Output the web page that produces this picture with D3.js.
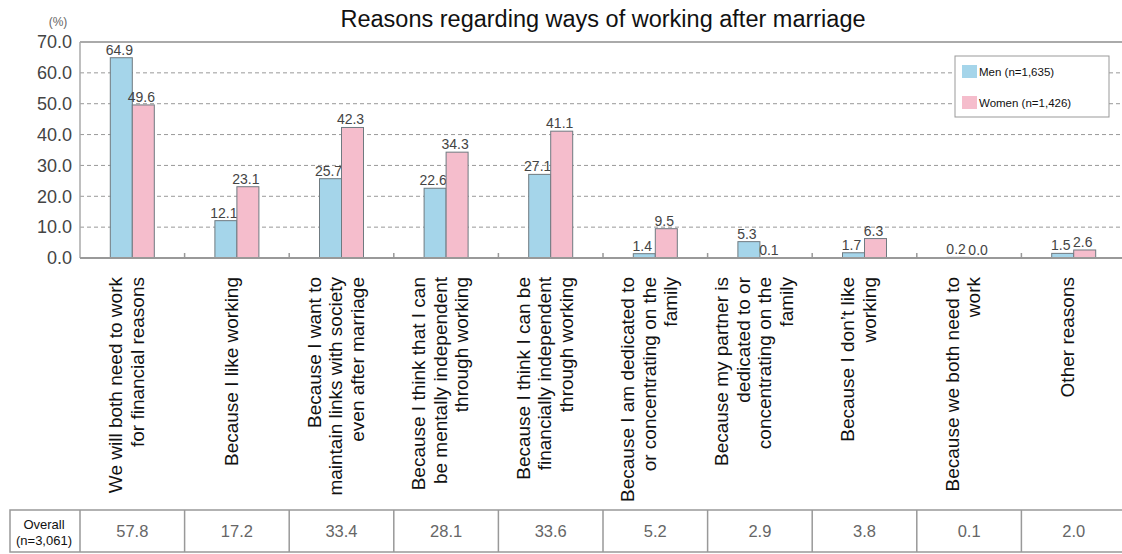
<!DOCTYPE html>
<html>
<head>
<meta charset="utf-8">
<script src="https://cdn.jsdelivr.net/npm/d3@7"></script>
<style>
  body { margin: 0; background: #fff; }
  text { font-family: Arial, "Liberation Sans", sans-serif; }
</style>
</head>
<body>
<div id="chart"></div>
<script>
const categories = [
    ["We will both need to work", "for financial reasons"],
    ["Because I like working"],
    ["Because I want to", "maintain links with society", "even after marriage"],
    ["Because I think that I can", "be mentally independent", "through working"],
    ["Because I think I can be", "financially independent", "through working"],
    ["Because I am dedicated to", "or concentrating on the", "family"],
    ["Because my partner is", "dedicated to or", "concentrating on the", "family"],
    ["Because I don\u2019t like", "working"],
    ["Because we both need to", "work"],
    ["Other reasons"]
];
const men = [64.9, 12.1, 25.7, 22.6, 27.1, 1.4, 5.3, 1.7, 0.2, 1.5];
const women = [49.6, 23.1, 42.3, 34.3, 41.1, 9.5, 0.1, 6.3, 0.0, 2.6];
const overall = [57.8, 17.2, 33.4, 28.1, 33.6, 5.2, 2.9, 3.8, 0.1, 2.0];
const seriesNames = ["Men (n=1,635)", "Women (n=1,426)"];
const yTicks = [0, 10, 20, 30, 40, 50, 60, 70];

const W = 1122, H = 554;
const plotL = 80, plotR = 1126, plotT = 42, plotB = 258;
const colors = ["#a5d5ea", "#f5bdcc"];

const svg = d3.select("#chart").append("svg")
    .attr("width", W).attr("height", H);

const idx = categories.map((d, i) => i);
const x = d3.scaleBand().domain(idx).range([plotL, plotR]);
const y = d3.scaleLinear().domain([0, 70]).range([plotB, plotT]);
const barW = 22;

// title
svg.append("text")
    .attr("x", 603).attr("y", 27)
    .attr("text-anchor", "middle")
    .style("font-size", "23.5px")
    .style("fill", "#111")
    .text("Reasons regarding ways of working after marriage");

svg.append("text")
    .attr("x", 58).attr("y", 26)
    .attr("text-anchor", "middle")
    .style("font-size", "12px")
    .style("fill", "#666")
    .text("(%)");

// gridlines
svg.append("g").selectAll("line")
    .data(yTicks.filter(t => t > 0 && t < 70))
    .enter().append("line")
    .attr("x1", plotL).attr("x2", W)
    .attr("y1", d => y(d)).attr("y2", d => y(d))
    .attr("stroke", "#999")
    .attr("stroke-width", 1)
    .attr("stroke-dasharray", "4,3");

// y axis labels
const yAxis = svg.append("g")
    .attr("transform", `translate(${plotL},0)`)
    .call(d3.axisLeft(y).tickValues(yTicks).tickFormat(d3.format(".1f")).tickSize(0).tickPadding(8));
yAxis.select(".domain").remove();
yAxis.selectAll("text")
    .style("font-size", "18px")
    .style("fill", "#444")
    .style("font-family", "Arial, sans-serif");

// frame
svg.append("line")
    .attr("x1", plotL).attr("x2", W).attr("y1", plotT).attr("y2", plotT)
    .attr("stroke", "#aaa").attr("stroke-width", 2);
svg.append("line")
    .attr("x1", plotL).attr("x2", plotL).attr("y1", plotT).attr("y2", plotB)
    .attr("stroke", "#aaa").attr("stroke-width", 1.5);

// bars
const groups = svg.append("g").selectAll("g")
    .data(idx)
    .enter().append("g");

[men, women].forEach((vals, s) => {
    groups.append("rect")
        .attr("x", i => x(i) + x.bandwidth() / 2 - barW + s * barW)
        .attr("y", i => y(vals[i]))
        .attr("width", barW)
        .attr("height", i => y(0) - y(vals[i]))
        .attr("fill", colors[s])
        .attr("stroke", "#6f7a80")
        .attr("stroke-width", 1);

    groups.append("text")
        .attr("x", i => x(i) + x.bandwidth() / 2 - barW / 2 + s * barW - 2)
        .attr("y", i => y(vals[i]) - 3)
        .attr("text-anchor", "middle")
        .style("font-size", "14px")
        .style("fill", "#444")
        .text(i => vals[i].toFixed(1));
});

// x baseline with small ticks
svg.append("line")
    .attr("x1", plotL).attr("x2", W).attr("y1", plotB).attr("y2", plotB)
    .attr("stroke", "#999").attr("stroke-width", 2);
svg.append("g").selectAll("line")
    .data(idx.slice(1))
    .enter().append("line")
    .attr("x1", i => x(i)).attr("x2", i => x(i))
    .attr("y1", plotB - 5).attr("y2", plotB)
    .attr("stroke", "#999").attr("stroke-width", 1.5);

// category labels (rotated)
const lineH = 21.5;
const labels = svg.append("g").selectAll("g")
    .data(idx)
    .enter().append("g")
    .attr("transform", i => `translate(${x(i) + x.bandwidth() / 2 - 6},277) rotate(-90)`);
labels.each(function(i) {
    const lines = categories[i];
    const n = lines.length;
    d3.select(this).selectAll("text")
        .data(lines)
        .enter().append("text")
        .attr("x", 0)
        .attr("y", (d, k) => (k - (n - 1) / 2) * lineH)
        .attr("dy", "0.35em")
        .attr("text-anchor", "end")
        .style("font-size", "19px")
        .style("fill", "#111")
        .text(d => d);
});

// legend
const legend = svg.append("g").attr("transform", "translate(955,56)");
legend.append("rect")
    .attr("width", 154).attr("height", 61)
    .attr("fill", "#fff").attr("stroke", "#999").attr("stroke-width", 1);
seriesNames.forEach((name, s) => {
    legend.append("rect")
        .attr("x", 7).attr("y", 9 + s * 31)
        .attr("width", 15).attr("height", 13)
        .attr("fill", colors[s]);
    legend.append("text")
        .attr("x", 24).attr("y", 16 + s * 31)
        .attr("dy", "0.35em")
        .style("font-size", "11.5px")
        .style("fill", "#111")
        .text(name);
});

// overall table
const tTop = 510, tBot = 552;
const table = svg.append("g");
table.append("rect")
    .attr("x", 10).attr("y", tTop)
    .attr("width", W - 10 + 5).attr("height", tBot - tTop)
    .attr("fill", "none").attr("stroke", "#999").attr("stroke-width", 1.5);
table.selectAll("line.div")
    .data(idx)
    .enter().append("line")
    .attr("x1", i => x(i)).attr("x2", i => x(i))
    .attr("y1", tTop).attr("y2", tBot)
    .attr("stroke", "#999").attr("stroke-width", 1.5);
table.append("text")
    .attr("x", 44).attr("y", tTop + 14)
    .attr("dy", "0.35em").attr("text-anchor", "middle")
    .style("font-size", "13px").style("fill", "#111")
    .text("Overall");
table.append("text")
    .attr("x", 44).attr("y", tTop + 30)
    .attr("dy", "0.35em").attr("text-anchor", "middle")
    .style("font-size", "13px").style("fill", "#111")
    .text("(n=3,061)");
table.selectAll("text.val")
    .data(idx)
    .enter().append("text")
    .attr("x", i => x(i) + x.bandwidth() / 2)
    .attr("y", (tTop + tBot) / 2)
    .attr("dy", "0.35em").attr("text-anchor", "middle")
    .style("font-size", "16.5px").style("fill", "#666")
    .text(i => overall[i].toFixed(1));
</script>
</body>
</html>
